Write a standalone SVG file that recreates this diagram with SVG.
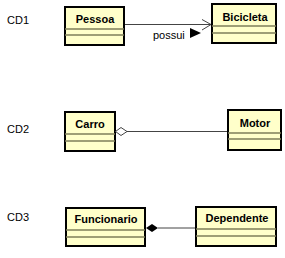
<svg xmlns="http://www.w3.org/2000/svg" width="285" height="258" viewBox="0 0 285 258">
<style>
.box{fill:#FFFFCA;stroke:#000;stroke-width:2}
.div{stroke:#7E7E58;stroke-width:1.5}
.name{font-family:"Liberation Sans",Arial,sans-serif;font-size:11px;font-weight:bold;text-anchor:middle;fill:#000}
.lbl{font-family:"Liberation Sans",Arial,sans-serif;font-size:11px;fill:#000}
.edge{stroke:#444;stroke-width:1;fill:none}
</style>
<rect width="285" height="258" fill="#fff"/>
<g id="labels">
<text class="lbl" x="7" y="24">CD1</text>
<text class="lbl" x="7" y="133">CD2</text>
<text class="lbl" x="7" y="221">CD3</text>
</g>
<g id="Pessoa">
<rect class="box" x="65" y="7" width="59" height="38"/>
<line class="div" x1="65" y1="29" x2="124" y2="29"/>
<line class="div" x1="65" y1="35" x2="124" y2="35"/>
<text class="name" x="95" y="23">Pessoa</text>
</g>
<g id="Bicicleta">
<rect class="box" x="212" y="4" width="64" height="39"/>
<line class="div" x1="212" y1="26" x2="276" y2="26"/>
<line class="div" x1="212" y1="33" x2="276" y2="33"/>
<text class="name" x="245" y="21">Bicicleta</text>
</g>
<g id="Carro">
<rect class="box" x="65" y="112" width="50" height="39"/>
<line class="div" x1="65" y1="134" x2="115" y2="134"/>
<line class="div" x1="65" y1="141" x2="115" y2="141"/>
<text class="name" x="90" y="128">Carro</text>
</g>
<g id="Motor">
<rect class="box" x="228" y="110" width="53" height="40"/>
<line class="div" x1="228" y1="133" x2="281" y2="133"/>
<line class="div" x1="228" y1="139" x2="281" y2="139"/>
<text class="name" x="255" y="127">Motor</text>
</g>
<g id="Funcionario">
<rect class="box" x="66" y="208" width="79" height="38"/>
<line class="div" x1="66" y1="230" x2="145" y2="230"/>
<line class="div" x1="66" y1="237" x2="145" y2="237"/>
<text class="name" x="106" y="223">Funcionario</text>
</g>
<g id="Dependente">
<rect class="box" x="196" y="207" width="80" height="39"/>
<line class="div" x1="196" y1="229" x2="276" y2="229"/>
<line class="div" x1="196" y1="236" x2="276" y2="236"/>
<text class="name" x="237" y="222">Dependente</text>
</g>
<g id="connectors">
<line class="edge" x1="125" y1="24.5" x2="211" y2="24.5"/>
<polyline class="edge" points="202,19.5 211,24.5 202,30"/>
<polygon points="190,28 201,33 190,38" fill="#000"/>
<text class="lbl" x="153" y="38.5">possui</text>
<line class="edge" x1="127" y1="131.5" x2="227" y2="131.5"/>
<polygon points="115.5,131.5 121,127.5 127,131.5 121,135.5" fill="#fff" stroke="#444" stroke-width="1"/>
<line class="edge" x1="158" y1="228" x2="195" y2="228"/>
<polygon points="146,228 152,224 158,228 152,232" fill="#000"/>
</g>
</svg>
